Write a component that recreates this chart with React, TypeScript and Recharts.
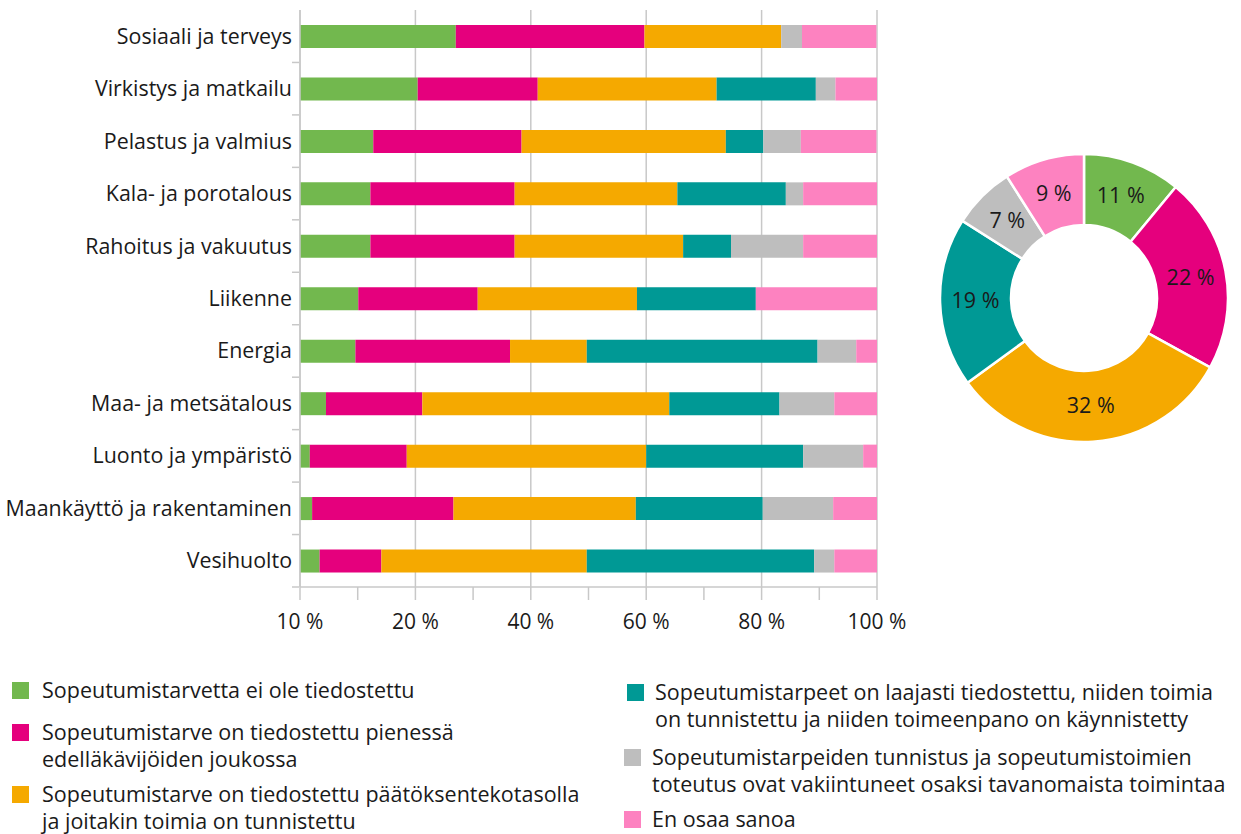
import { Bar, BarChart, CartesianGrid, Cell, Pie, PieChart, XAxis, YAxis } from 'recharts'

const categories = [
  'Sosiaali ja terveys',
  'Virkistys ja matkailu',
  'Pelastus ja valmius',
  'Kala- ja porotalous',
  'Rahoitus ja vakuutus',
  'Liikenne',
  'Energia',
  'Maa- ja metsätalous',
  'Luonto ja ympäristö',
  'Maankäyttö ja rakentaminen',
  'Vesihuolto',
]

const eiTiedostettu = [27.0, 20.4, 12.7, 12.2, 12.2, 10.1, 9.6, 4.5, 1.7, 2.1, 3.4]
const pienessaJoukossa = [32.7, 20.8, 25.7, 25.0, 25.0, 20.7, 26.8, 16.7, 16.8, 24.5, 10.7]
const paatoksenteko = [23.7, 31.0, 35.4, 28.2, 29.2, 27.6, 13.3, 42.8, 41.5, 31.6, 35.6]
const laajasti = [0, 17.2, 6.5, 18.8, 8.3, 20.6, 40.0, 19.1, 27.2, 22.0, 39.4]
const vakiintuneet = [3.6, 3.4, 6.5, 3.0, 12.5, 0, 6.7, 9.5, 10.4, 12.2, 3.5]
const enOsaa = [12.9, 7.2, 13.1, 12.8, 12.8, 21.0, 3.6, 7.4, 2.4, 7.6, 7.4]

const seriesKeys = ['s1', 's2', 's3', 's4', 's5', 's6']
const seriesNames = [
  'Sopeutumistarvetta ei ole tiedostettu',
  'Sopeutumistarve on tiedostettu pienessä edelläkävijöiden joukossa',
  'Sopeutumistarve on tiedostettu päätöksentekotasolla ja joitakin toimia on tunnistettu',
  'Sopeutumistarpeet on laajasti tiedostettu, niiden toimia on tunnistettu ja niiden toimeenpano on käynnistetty',
  'Sopeutumistarpeiden tunnistus ja sopeutumistoimien toteutus ovat vakiintuneet osaksi tavanomaista toimintaa',
  'En osaa sanoa',
]
const colors = ['#72b84e', '#e5007d', '#f5a900', '#009995', '#bebebe', '#fd82c0']

const xTicks = [0, 10, 20, 30, 40, 50, 60, 70, 80, 90, 100]
const xTickLabels: Record<number, string> = { 0: '10 %', 20: '20 %', 40: '40 %', 60: '60 %', 80: '80 %', 100: '100 %' }

const pieValues = [11, 22, 32, 19, 7, 9]

const font = '"Open Sans", sans-serif'

const barData = categories.map((name, i) => ({
  name,
  s1: eiTiedostettu[i],
  s2: pienessaJoukossa[i],
  s3: paatoksenteko[i],
  s4: laajasti[i],
  s5: vakiintuneet[i],
  s6: enOsaa[i],
}))

const pieData = pieValues.map((value, i) => ({ name: seriesNames[i], value }))

function CategoryTick(props: any) {
  const { x, y, payload } = props
  const half = payload.offset ?? 26
  return (
    <g>
      <text x={x} y={y} dy={7.5} textAnchor='end' fill='#1a1a1a' fontSize={21.4} fontFamily={font}>
        {payload.value}
      </text>
      <line x1={x} x2={x + 7} y1={y + half} y2={y + half} stroke='#c8c8c8' strokeWidth={1.5} />
    </g>
  )
}

function PercentTick(props: any) {
  const { x, y, payload } = props
  const label = xTickLabels[payload.value]
  if (!label) return null
  return (
    <text x={x} y={y} dy={27} textAnchor='middle' fill='#1a1a1a' fontSize={21} fontFamily={font}>
      {label}
    </text>
  )
}

const RAD = Math.PI / 180
function sliceLabel(props: any) {
  const { cx, cy, midAngle, innerRadius, outerRadius, value } = props
  const r = (innerRadius + outerRadius) / 2
  const x = cx + r * Math.cos(-midAngle * RAD)
  const y = cy + r * Math.sin(-midAngle * RAD)
  return (
    <text x={x} y={y} dy={7} textAnchor='middle' fill='#1a1a1a' fontSize={21.5} fontFamily={font}>
      {`${value} %`}
    </text>
  )
}

const legendLines = [
  ['Sopeutumistarvetta ei ole tiedostettu'],
  ['Sopeutumistarve on tiedostettu pienessä', 'edelläkävijöiden joukossa'],
  ['Sopeutumistarve on tiedostettu päätöksentekotasolla', 'ja joitakin toimia on tunnistettu'],
  ['Sopeutumistarpeet on laajasti tiedostettu, niiden toimia', 'on tunnistettu ja niiden toimeenpano on käynnistetty'],
  ['Sopeutumistarpeiden tunnistus ja sopeutumistoimien', 'toteutus ovat vakiintuneet osaksi tavanomaista toimintaa'],
  ['En osaa sanoa'],
]
const legendPos = [
  { left: 12, top: 676, gap: 13 },
  { left: 12, top: 718, gap: 13 },
  { left: 12, top: 780, gap: 13 },
  { left: 627, top: 678, gap: 11 },
  { left: 624, top: 743, gap: 11 },
  { left: 624, top: 805, gap: 11 },
]

function LegendBlock() {
  return (
    <>
      {legendLines.map((lines, idx) => (
        <div key={idx} style={{ position: 'absolute', left: legendPos[idx].left, top: legendPos[idx].top, display: 'flex' }}>
          <div
            style={{
              width: 17,
              height: 17,
              background: colors[idx],
              marginTop: 6,
              marginRight: legendPos[idx].gap,
              flexShrink: 0,
            }}
          />
          <div style={{ fontSize: 21.5, lineHeight: '27px', color: '#1a1a1a', fontFamily: font, whiteSpace: 'nowrap' }}>
            {lines.map((line) => (
              <div key={line}>{line}</div>
            ))}
          </div>
        </div>
      ))}
    </>
  )
}

export default function App() {
  return (
    <div style={{ position: 'absolute', left: 0, top: 0, width: 1241, height: 834, background: '#fff', fontFamily: font }}>
      <div style={{ position: 'absolute', left: 0, top: 0 }}>
        <BarChart
          width={930}
          height={640}
          data={barData}
          layout='vertical'
          margin={{ top: 10, right: 53, bottom: 0, left: 0 }}
          barSize={23}
        >
          <CartesianGrid horizontal={false} verticalValues={[0, 20, 40, 60, 80, 100]} stroke='#c8c8c8' strokeWidth={1.5} />
          <XAxis
            type='number'
            domain={[0, 100]}
            ticks={xTicks}
            interval={0}
            tick={<PercentTick />}
            tickSize={13}
            tickLine={{ stroke: '#c8c8c8', strokeWidth: 1.5 }}
            axisLine={{ stroke: '#c8c8c8', strokeWidth: 1.5 }}
            height={53}
          />
          <YAxis
            type='category'
            dataKey='name'
            width={300}
            interval={0}
            tick={<CategoryTick />}
            tickLine={false}
            axisLine={{ stroke: '#c8c8c8', strokeWidth: 1.5 }}
          />
          {seriesKeys.map((key, i) => (
            <Bar key={key} dataKey={key} name={seriesNames[i]} stackId='a' fill={colors[i]} isAnimationActive={false} />
          ))}
        </BarChart>
      </div>
      <div style={{ position: 'absolute', left: 934, top: 148 }}>
        <PieChart width={300} height={300} margin={{ top: 0, right: 0, bottom: 0, left: 0 }}>
          <Pie
            data={pieData}
            dataKey='value'
            cx={150}
            cy={150}
            innerRadius={73}
            outerRadius={144}
            startAngle={90}
            endAngle={-270}
            stroke='#ffffff'
            strokeWidth={2.5}
            label={sliceLabel}
            labelLine={false}
            isAnimationActive={false}
          >
            {pieData.map((d, i) => (
              <Cell key={d.name} fill={colors[i]} />
            ))}
          </Pie>
        </PieChart>
      </div>
      <LegendBlock />
    </div>
  )
}
